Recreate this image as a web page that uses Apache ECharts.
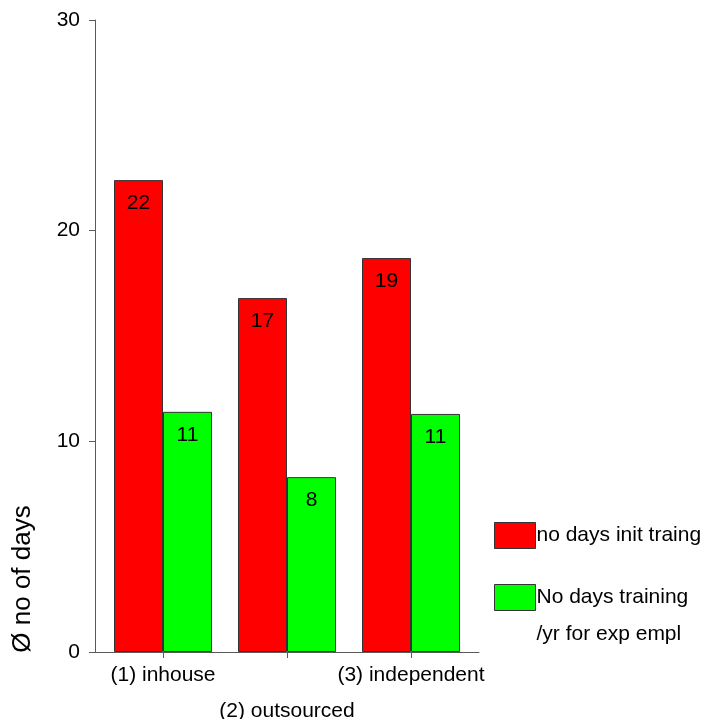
<!DOCTYPE html>
<html>
<head>
<meta charset="utf-8">
<script src="https://cdn.jsdelivr.net/npm/echarts@6/dist/echarts.min.js"></script>
<style>
  html, body { margin: 0; padding: 0; background: #ffffff; }
  #chart { width: 709px; height: 719px; }
</style>
</head>
<body>
<div id="chart"></div>
<script>
// Training days by type of provider
const categories = ['(1) inhouse', '(2) outsourced', '(3) independent'];
const initTraining = [22.4, 16.8, 18.7];
const yearlyTraining = [11.4, 8.3, 11.3];
const seriesNames = ['no days init traing', 'No days training\n/yr for exp empl'];
const yTicks = [0, 10, 20, 30];
const yTitle = 'Ø no of days';

const FONT = "'Liberation Sans', Arial, sans-serif";
const AXIS_COLOR = '#5a5a5a';
const FS = 21;

const barLabel = {
  show: true,
  position: 'insideTop',
  distance: 13,
  color: '#000',
  fontFamily: FONT,
  fontSize: FS,
  formatter: p => String(Math.round(p.value))
};

const legendBase = {
  left: 489,
  icon: 'rect',
  itemWidth: 41, itemHeight: 26, itemGap: 0,
  selectedMode: false,
  itemStyle: { borderWidth: 1, borderColor: '#333333' }
};

const chart = echarts.init(document.getElementById('chart'), null, { renderer: 'canvas' });

chart.setOption({
  animation: false,
  backgroundColor: '#ffffff',
  grid: [
    { left: 101, right: 236, top: 20, bottom: 67, outerBoundsMode: 'none' },
    // wider baseline running under the whole plot
    { left: 95, right: 230, top: 20, bottom: 67, outerBoundsMode: 'none' }
  ],
  legend: [
    Object.assign({}, legendBase, {
      data: [seriesNames[0]],
      top: 517,
      textStyle: { fontFamily: FONT, fontSize: FS, color: '#000', padding: [0, 0, 0, -4] }
    }),
    Object.assign({}, legendBase, {
      data: [seriesNames[1]],
      top: 537,
      // leading blank line keeps the first text line level with the swatch
      formatter: name => '\n' + name,
      textStyle: { fontFamily: FONT, fontSize: FS, color: '#000', lineHeight: 37, padding: [0, 0, 0, -4] }
    })
  ],
  xAxis: [
    {
      type: 'category',
      gridIndex: 0,
      data: categories,
      axisLine: { show: false },
      axisTick: { show: true, alignWithLabel: true, length: 6, lineStyle: { color: AXIS_COLOR } },
      axisLabel: {
        interval: 0,
        margin: 5,
        color: '#000',
        fontFamily: FONT,
        fontSize: FS,
        lineHeight: 36,
        formatter: (v, i) => (i % 2 === 1 ? '\n' + v : v)
      }
    },
    {
      type: 'value',
      gridIndex: 1,
      min: 0, max: 1,
      axisLine: { show: true, onZero: false, lineStyle: { color: AXIS_COLOR } },
      axisTick: { show: false },
      axisLabel: { show: false },
      splitLine: { show: false }
    }
  ],
  yAxis: [
    {
      type: 'value',
      gridIndex: 0,
      min: yTicks[0],
      max: yTicks[yTicks.length - 1],
      interval: 10,
      offset: 6,
      axisLine: { show: true, lineStyle: { color: AXIS_COLOR } },
      axisTick: { show: true, length: 6, lineStyle: { color: AXIS_COLOR } },
      axisLabel: { margin: 15, color: '#000', fontFamily: FONT, fontSize: FS },
      splitLine: { show: false }
    },
    {
      type: 'value',
      gridIndex: 1,
      show: false
    }
  ],
  graphic: [
    {
      type: 'text',
      x: 23, y: 579,
      rotation: Math.PI / 2,
      style: {
        text: yTitle,
        fontFamily: FONT,
        fontSize: 26,
        fill: '#000',
        align: 'center',
        verticalAlign: 'middle'
      }
    }
  ],
  series: [
    {
      name: seriesNames[0],
      type: 'bar',
      xAxisIndex: 0, yAxisIndex: 0,
      data: initTraining,
      barWidth: 49,
      barGap: '0%',
      itemStyle: { color: '#ff0000', borderColor: '#333333', borderWidth: 1 },
      label: barLabel
    },
    {
      name: seriesNames[1],
      type: 'bar',
      xAxisIndex: 0, yAxisIndex: 0,
      data: yearlyTraining,
      barWidth: 49,
      barGap: '0%',
      itemStyle: { color: '#00ff00', borderColor: '#333333', borderWidth: 1 },
      label: barLabel
    }
  ]
});
</script>
</body>
</html>
